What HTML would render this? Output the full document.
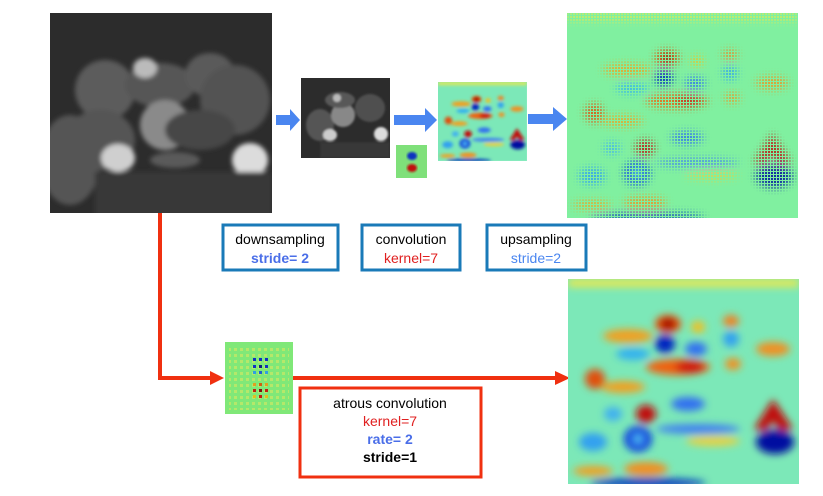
<!DOCTYPE html>
<html><head><meta charset="utf-8"><style>
body{margin:0;background:#fff}
svg{display:block}
text{font-family:"Liberation Sans",sans-serif;font-size:14px;text-anchor:middle}
</style></head><body>
<svg width="823" height="496" viewBox="0 0 823 496" xmlns="http://www.w3.org/2000/svg">
<defs>
<filter id="b2" x="-50%" y="-50%" width="200%" height="200%"><feGaussianBlur stdDeviation="2.5"/></filter>
<filter id="b1"><feGaussianBlur stdDeviation="1"/></filter>
<filter id="bh" x="-50%" y="-50%" width="200%" height="200%"><feGaussianBlur stdDeviation="4"/></filter>
<clipPath id="cp1"><rect x="50" y="13" width="222" height="200"/></clipPath>
<clipPath id="cp2"><rect x="301" y="78" width="89" height="80"/></clipPath>
<clipPath id="cl"><rect x="0" y="0" width="231" height="205"/></clipPath>
<pattern id="dots" width="3" height="3" patternUnits="userSpaceOnUse"><rect width="2" height="2" fill="#fff"/></pattern>
<mask id="dm"><rect x="0" y="0" width="231" height="205" fill="url(#dots)"/></mask>
<pattern id="kd" width="6" height="6" patternUnits="userSpaceOnUse"><rect width="3" height="3" fill="#d8e860"/></pattern>
<g id="blobs">
<rect x="0" y="0" width="231" height="8" fill="#e8e850"/>
<ellipse cx="60" cy="57" rx="25" ry="7" fill="#f0a020"/>
<ellipse cx="100" cy="45" rx="13" ry="9" fill="#f05010"/>
<ellipse cx="100" cy="45" rx="8" ry="6" fill="#a00000"/>
<ellipse cx="97" cy="65" rx="10" ry="9" fill="#0020c0"/>
<ellipse cx="130" cy="48" rx="7" ry="6" fill="#f0c020"/>
<ellipse cx="163" cy="42" rx="8" ry="6" fill="#f08020"/>
<ellipse cx="163" cy="60" rx="8" ry="8" fill="#30a0f0"/>
<ellipse cx="65" cy="75" rx="17" ry="6" fill="#30b0f0"/>
<ellipse cx="128" cy="70" rx="11" ry="7" fill="#3070f0"/>
<ellipse cx="110" cy="88" rx="32" ry="8" fill="#f06010"/>
<ellipse cx="122" cy="88" rx="15" ry="6" fill="#d01010"/>
<ellipse cx="165" cy="85" rx="8" ry="6" fill="#f09020"/>
<ellipse cx="205" cy="70" rx="17" ry="7" fill="#f09020"/>
<ellipse cx="27" cy="100" rx="10" ry="10" fill="#e05010"/>
<ellipse cx="55" cy="108" rx="22" ry="6" fill="#f0a020"/>
<ellipse cx="120" cy="125" rx="17" ry="7" fill="#3070f0"/>
<ellipse cx="45" cy="135" rx="9" ry="7" fill="#40b0f0"/>
<ellipse cx="78" cy="135" rx="10" ry="9" fill="#c01010"/>
<ellipse cx="70" cy="160" rx="14" ry="13" fill="#1040e0"/>
<ellipse cx="70" cy="160" rx="5" ry="5" fill="#50c0f0"/>
<ellipse cx="130" cy="150" rx="42" ry="5" fill="#4080f0"/>
<ellipse cx="145" cy="162" rx="27" ry="5" fill="#e8d040"/>
<ellipse cx="25" cy="163" rx="14" ry="9" fill="#30a0f0"/>
<polygon points="186,150 205,120 225,150 212,152 205,142 198,152" fill="#c01010"/>
<ellipse cx="207" cy="163" rx="19" ry="12" fill="#0010a0"/>
<ellipse cx="25" cy="192" rx="20" ry="5" fill="#f0a020"/>
<ellipse cx="78" cy="190" rx="22" ry="7" fill="#f09020"/>
<ellipse cx="80" cy="204" rx="58" ry="5" fill="#1040c0"/>
</g>
</defs>
<!-- big photo -->
<rect x="50" y="13" width="222" height="200" fill="#2c2c2c"/>
<g filter="url(#b2)" clip-path="url(#cp1)">
<ellipse cx="70" cy="160" rx="30" ry="45" fill="#555"/>
<ellipse cx="105" cy="90" rx="30" ry="30" fill="#5c5c5c"/>
<ellipse cx="100" cy="140" rx="35" ry="30" fill="#555"/>
<ellipse cx="160" cy="85" rx="35" ry="22" fill="#575757"/>
<ellipse cx="210" cy="75" rx="25" ry="22" fill="#5a5a5a"/>
<ellipse cx="235" cy="100" rx="35" ry="35" fill="#525252"/>
<ellipse cx="165" cy="125" rx="25" ry="25" fill="#8a8a8a"/>
<ellipse cx="145" cy="68" rx="12" ry="10" fill="#bbb"/>
<ellipse cx="200" cy="130" rx="35" ry="20" fill="#474747"/>
<ellipse cx="118" cy="158" rx="17" ry="14" fill="#cfcfcf"/>
<ellipse cx="250" cy="160" rx="18" ry="17" fill="#dcdcdc"/>
<ellipse cx="175" cy="160" rx="25" ry="8" fill="#5a5a5a"/>
<rect x="95" y="172" width="177" height="45" fill="#383838"/>
</g>
<!-- small photo -->
<rect x="301" y="78" width="89" height="80" fill="#2c2c2c"/>
<g filter="url(#b1)" clip-path="url(#cp2)">
<ellipse cx="320" cy="125" rx="14" ry="16" fill="#555"/>
<ellipse cx="343" cy="115" rx="12" ry="12" fill="#888"/>
<ellipse cx="340" cy="100" rx="15" ry="8" fill="#585858"/>
<ellipse cx="370" cy="108" rx="15" ry="14" fill="#505050"/>
<ellipse cx="337" cy="98" rx="4" ry="4" fill="#bbb"/>
<ellipse cx="330" cy="135" rx="7" ry="6" fill="#ccc"/>
<ellipse cx="381" cy="134" rx="7" ry="7" fill="#ddd"/>
<rect x="320" y="142" width="70" height="16" fill="#383838"/>
</g>
<!-- arrows blue -->
<g fill="#4a86f0">
<polygon points="276,115 290,115 290,109 300,120 290,131 290,125 276,125"/>
<polygon points="394,115 425,115 425,108 437,120 425,132 425,125 394,125"/>
<polygon points="528,114 553,114 553,107 567,119 553,131 553,124 528,124"/>
</g>
<!-- kernel small -->
<rect x="396" y="145" width="31" height="33" fill="#7fe07a"/>
<g filter="url(#b1)"><ellipse cx="412" cy="156" rx="5" ry="4" fill="#1030c0"/><ellipse cx="412" cy="168" rx="5" ry="4" fill="#c01010"/></g>
<!-- conv out -->
<g transform="translate(438,82) scale(0.385,0.385)">
<rect x="0" y="0" width="231" height="205" fill="#7ce8b8"/>
<g clip-path="url(#cl)"><g filter="url(#bh)"><use href="#blobs"/></g></g>
</g>
<!-- big upsampled -->
<g transform="translate(567,13)">
<rect x="0" y="0" width="231" height="205" fill="#80f0a0"/>
<g mask="url(#dm)" opacity="0.85"><g filter="url(#bh)"><use href="#blobs"/></g></g>
</g>
<!-- blue boxes -->
<g fill="none" stroke="#1a7ab8" stroke-width="3">
<rect x="223" y="225" width="115" height="45"/>
<rect x="362" y="225" width="98" height="45"/>
<rect x="487" y="225" width="99" height="45"/>
</g>
<text x="280" y="244" fill="#000">downsampling</text>
<text x="280" y="263" fill="#4a6ee8" font-weight="bold">stride= 2</text>
<text x="411" y="244" fill="#000">convolution</text>
<text x="411" y="263" fill="#e02020">kernel=7</text>
<text x="536" y="244" fill="#000">upsampling</text>
<text x="536" y="263" fill="#4a86f0">stride=2</text>
<!-- red path -->
<polyline points="160,213 160,378 212,378" fill="none" stroke="#f03010" stroke-width="4"/>
<polygon points="210,371 224,378 210,385" fill="#f03010"/>
<line x1="293" y1="378" x2="558" y2="378" stroke="#f03010" stroke-width="4"/>
<polygon points="555,371 570,378 555,385" fill="#f03010"/>
<!-- dilated kernel -->
<rect x="225" y="342" width="68" height="72" fill="#80e878"/>
<rect x="229" y="346" width="60" height="64" fill="url(#kd)" opacity="0.6"/>
<g>
<rect x="253" y="358" width="3" height="3" fill="#1030c0"/><rect x="259" y="358" width="3" height="3" fill="#1030c0"/><rect x="265" y="358" width="3" height="3" fill="#1030c0"/>
<rect x="253" y="365" width="3" height="3" fill="#1030c0"/><rect x="259" y="365" width="3" height="3" fill="#102080"/><rect x="265" y="365" width="3" height="3" fill="#1030c0"/>
<rect x="253" y="371" width="3" height="3" fill="#30a0e0"/><rect x="259" y="371" width="3" height="3" fill="#2060d0"/><rect x="265" y="371" width="3" height="3" fill="#30a0e0"/>
<rect x="253" y="383" width="3" height="3" fill="#e0a020"/><rect x="259" y="383" width="3" height="3" fill="#d06010"/><rect x="265" y="383" width="3" height="3" fill="#e0a020"/>
<rect x="253" y="389" width="3" height="3" fill="#c02010"/><rect x="259" y="389" width="3" height="3" fill="#801010"/><rect x="265" y="389" width="3" height="3" fill="#c02010"/>
<rect x="253" y="395" width="3" height="3" fill="#e0c020"/><rect x="259" y="395" width="3" height="3" fill="#c02010"/><rect x="265" y="395" width="3" height="3" fill="#e0c020"/>
</g>
<!-- red box -->
<rect x="300" y="388" width="181" height="89" fill="#fff" stroke="#f03010" stroke-width="3"/>
<text x="390" y="408" fill="#000">atrous convolution</text>
<text x="390" y="426" fill="#e02020">kernel=7</text>
<text x="390" y="444" fill="#4a6ee8" font-weight="bold">rate= 2</text>
<text x="390" y="462" fill="#000" font-weight="bold">stride=1</text>
<!-- bottom right -->
<g transform="translate(568,279)">
<rect x="0" y="0" width="231" height="205" fill="#7ce8b8"/>
<g clip-path="url(#cl)"><g filter="url(#bh)"><use href="#blobs"/></g></g>
</g>
</svg>
</body></html>
